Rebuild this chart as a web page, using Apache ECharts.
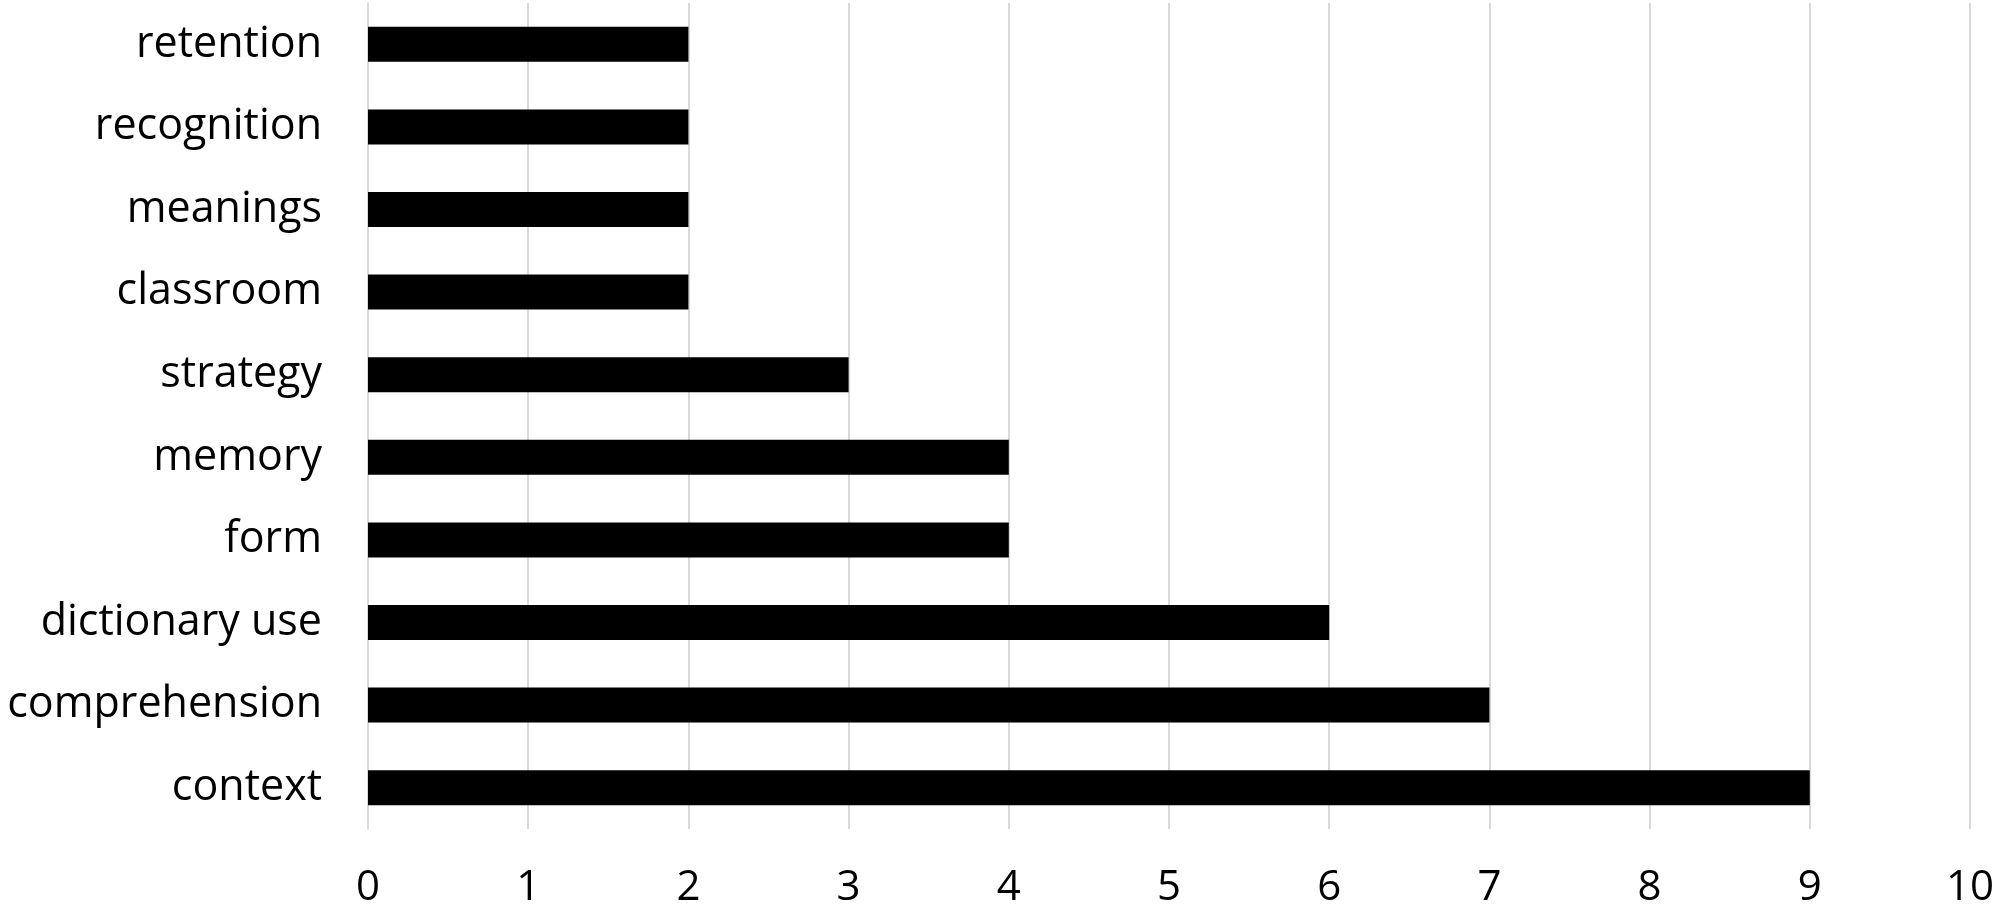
<!DOCTYPE html>
<html><head><meta charset="utf-8">
<script src="https://cdn.jsdelivr.net/npm/echarts@6/dist/echarts.min.js"></script>
<style>html,body{margin:0;padding:0;background:#fff}#c{width:2000px;height:921px}</style>
</head><body><div id="c"></div>
<script>
const categories = ["context","comprehension","dictionary use","form","memory","strategy","classroom","meanings","recognition","retention"];
const values = [9,7,6,4,4,3,2,2,2,2];
const xTicks = [0,1,2,3,4,5,6,7,8,9,10];

const chart = echarts.init(document.getElementById('c'));
chart.setOption({
  animation:false,
  backgroundColor:'#fff',
  grid:{left:368,right:30,top:3,height:826},
  xAxis:{type:'value',min:0,max:10,interval:1,
    axisLine:{show:false},axisTick:{show:false},
    splitLine:{lineStyle:{color:'#d9d9d9',width:2}},
    axisLabel:{color:'#000',fontSize:42,fontFamily:'Open Sans',margin:38,
      formatter:v=>String(xTicks[v])}},
  yAxis:{type:'category',data:categories,
    axisLine:{show:true,lineStyle:{color:'#d9d9d9',width:2}},axisTick:{show:false},
    axisLabel:{color:'#000',fontSize:43,fontFamily:'Open Sans',margin:46}},
  series:[{type:'bar',data:values,barWidth:35,itemStyle:{color:'#000'}}]
});
</script></body></html>
